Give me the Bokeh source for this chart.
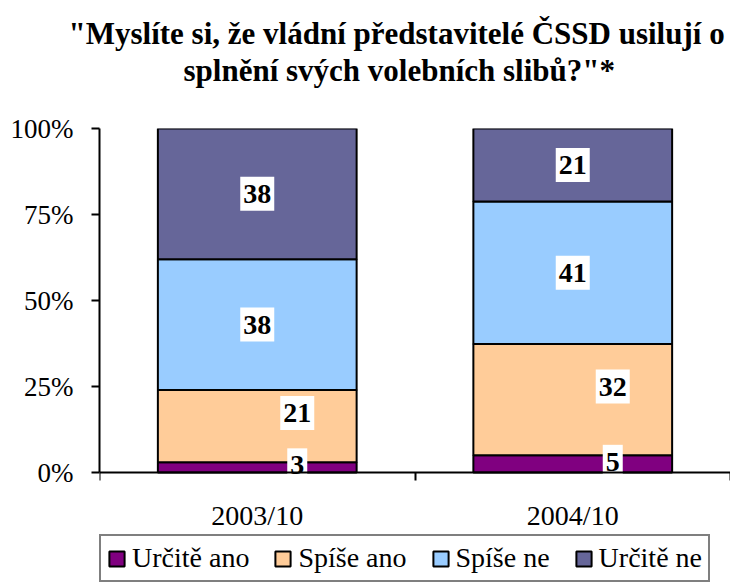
from bokeh.plotting import figure
from bokeh.models import (Range1d, LinearAxis, FixedTicker, PrintfTickFormatter,
                          ColumnDataSource, Legend, LegendItem, Title)
from bokeh.core.properties import value
from bokeh.embed import file_html
from bokeh.resources import INLINE

# ---- data ----
periods = ["2003/10", "2004/10"]
series = ["Určitě ano", "Spíše ano", "Spíše ne", "Určitě ne"]
urcite_ano = [3, 5]
spise_ano = [21, 32]
spise_ne = [38, 41]
urcite_ne = [38, 21]
y_ticks = [0, 25, 50, 75, 100]
title_line1 = '"Myslíte si, že vládní představitelé ČSSD usilují o'
title_line2 = 'splnění svých volebních slibů?"*'

# ---- styles / layout ----
colors = ["#800080", "#FFCC99", "#99CCFF", "#666699"]
label_dx = [40, 40, 0, 0]
label_dy_up = [2, 13, 0, 0]
SERIF = "Liberation Serif"
W, H = 730, 582
TOP, LEFT = 128, 99            # frame top / left in pixels
BAR_AREA = 344                 # pixel height of the 0..100 % band
LEGEND_BAND = H - TOP - BAR_AREA   # space under the bars for labels + legend
y_low = -100.0 * LEGEND_BAND / BAR_AREA

n = len(periods)
slot = [i + 0.5 for i in range(n)]          # category slot centres
edges = list(range(n + 1))                  # category slot boundaries
values = [urcite_ano, spise_ano, spise_ne, urcite_ne]
totals = [sum(v[j] for v in values) for j in range(n)]
data = {"slot": slot}
for name, vals in zip(series, values):
    data[name] = [100.0 * v / t for v, t in zip(vals, totals)]
source = ColumnDataSource(data)

# label positions from the stacked shares
lx, ly, lt, ldx, ldy = [], [], [], [], []
for j in range(n):
    cum = 0.0
    for i, name in enumerate(series):
        share = data[name][j]
        lx.append(slot[j])
        ly.append(cum + share / 2)
        lt.append(str(values[i][j]))
        ldx.append(label_dx[i])
        ldy.append(-label_dy_up[i])
        cum += share
lsource = ColumnDataSource(dict(x=lx, y=ly, text=lt, dx=ldx, dy=ldy))

p = figure(x_range=Range1d(0, n), y_range=Range1d(y_low, 100),
           width=W, height=H, output_backend="svg", toolbar_location=None,
           x_axis_location=None, y_axis_location=None,
           min_border_left=LEFT, min_border_right=0, min_border_top=TOP, min_border_bottom=0)
p.outline_line_color = None
p.xgrid.visible = False
p.ygrid.visible = False
p.background_fill_color = "white"
p.border_fill_color = "white"

renderers = p.vbar_stack(series, x="slot", width=0.63, source=source,
                         fill_color=colors, line_color="black", line_width=2)

p.text(x="x", y="y", text="text", x_offset="dx", y_offset="dy", source=lsource,
       text_align="center", text_baseline="middle",
       text_font=value(SERIF), text_font_style="bold", text_font_size="28px",
       text_color="black", background_fill_color="white",
       padding=dict(left=3, right=3, top=8, bottom=8))

# y axis (line only over 0..100 %)
yax = LinearAxis(ticker=FixedTicker(ticks=y_ticks), formatter=PrintfTickFormatter(format="%d%%"),
                 bounds=(0, 100))
yax.axis_line_width = 2
yax.axis_line_color = "black"
yax.major_tick_line_width = 2
yax.major_tick_line_color = "black"
yax.major_tick_in = 0
yax.major_tick_out = 8
yax.minor_tick_line_color = None
yax.major_label_text_font = SERIF
yax.major_label_text_font_size = "27px"
yax.major_label_text_color = "black"
yax.major_label_standoff = 18
p.add_layout(yax, "left")

# x axis at 0 %: names at slot centres, tick marks at slot boundaries
xax = LinearAxis(ticker=FixedTicker(ticks=slot, minor_ticks=edges),
                 major_label_overrides={s: lab for s, lab in zip(slot, periods)},
                 fixed_location=0)
xax.axis_line_width = 2
xax.axis_line_color = "black"
xax.major_tick_line_color = None
xax.major_tick_in = 0
xax.major_tick_out = 0
xax.minor_tick_line_color = "black"
xax.minor_tick_line_width = 2
xax.minor_tick_in = 0
xax.minor_tick_out = 8
xax.major_label_text_font = SERIF
xax.major_label_text_font_size = "28px"
xax.major_label_text_color = "black"
xax.major_label_standoff = 19
p.add_layout(xax, "below")

# legend: a horizontal box along the bottom edge
legend = Legend(items=[LegendItem(label=s, renderers=[r]) for s, r in zip(series, renderers)],
                orientation="horizontal", location=(0, 0))
legend.label_text_font = SERIF
legend.label_text_font_size = "28px"
legend.label_text_color = "black"
legend.border_line_color = "black"
legend.border_line_width = 2
legend.background_fill_color = "white"
legend.background_fill_alpha = 1.0
legend.glyph_width = 19
legend.glyph_height = 19
legend.label_standoff = 6
legend.spacing = 24
legend.padding = 6
legend.margin = 0
p.add_layout(legend)

# title: two lines, the second carries an empty line below it as spacing
t2 = Title(text=title_line2 + "\n", align="left", text_font=SERIF, text_font_style="bold",
           text_font_size="31px", text_color="black", offset=84, standoff=0,
           text_line_height=1.16)
t1 = Title(text=title_line1, align="left", text_font=SERIF, text_font_style="bold",
           text_font_size="31px", text_color="black", offset=-31, standoff=0,
           text_line_height=1.0)
p.add_layout(t2, "above")
p.add_layout(t1, "above")

open("out.html", "w").write(file_html(p, INLINE))
